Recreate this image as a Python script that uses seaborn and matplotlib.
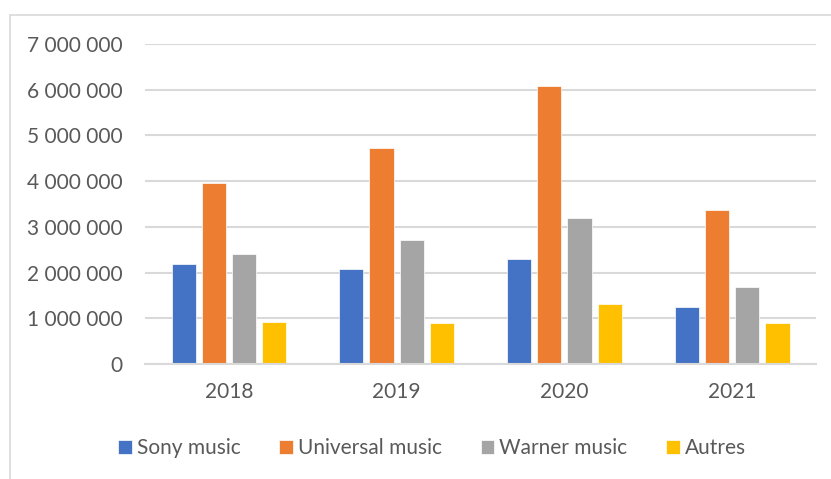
import matplotlib
matplotlib.use("Agg")
import matplotlib.pyplot as plt
from matplotlib.lines import Line2D
from matplotlib.ticker import FuncFormatter, MultipleLocator
import pandas as pd
import seaborn as sns

# donnees
annees = ["2018", "2019", "2020", "2021"]
labels = ["Sony music", "Universal music", "Warner music", "Autres"]
sony = [2190000, 2090000, 2300000, 1250000]
universal = [3950000, 4730000, 6090000, 3360000]
warner = [2410000, 2720000, 3190000, 1680000]
autres = [910000, 890000, 1320000, 900000]
couleurs = ["#4472C4", "#ED7D31", "#A5A5A5", "#FFC000"]

df = pd.DataFrame({
    "annee": annees * 4,
    "label": [l for l in labels for _ in annees],
    "valeur": sony + universal + warner + autres,
})

sns.set_theme(style="white")
plt.rcParams["font.family"] = ["Lato", "DejaVu Sans"]
gris_texte = "#595959"
gris_ligne = "#D9D9D9"

fig = plt.figure(figsize=(8.31, 4.79), dpi=100)
ax = fig.add_axes([0.1745, 0.240, 0.8075, 0.668])

sns.barplot(
    data=df,
    x="annee",
    y="valeur",
    hue="label",
    palette=couleurs,
    saturation=1,
    width=0.72,
    gap=0.2,
    edgecolor="white",
    linewidth=0.5,
    ax=ax,
)

ax.set_ylim(0, 7000000)
ax.yaxis.set_major_locator(MultipleLocator(1000000))
ax.yaxis.set_major_formatter(
    FuncFormatter(lambda v, p: f"{v:,.0f}".replace(",", " "))
)
ax.grid(axis="y", color=gris_ligne, linewidth=1.5)
ax.set_axisbelow(True)
for cote in ["top", "right", "left"]:
    ax.spines[cote].set_visible(False)
ax.spines["bottom"].set_color(gris_ligne)
ax.spines["bottom"].set_linewidth(1.5)
ax.set_xlabel("")
ax.set_ylabel("")
ax.tick_params(axis="both", length=0, labelsize=15, colors=gris_texte)
ax.tick_params(axis="y", pad=16)
ax.tick_params(axis="x", pad=13)

leg = ax.legend(
    ncol=4,
    loc="center",
    bbox_to_anchor=(0.52, 0.065),
    bbox_transform=fig.transFigure,
    frameon=False,
    fontsize=15,
    handlelength=0.65,
    handleheight=0.65,
    handletextpad=0.25,
    columnspacing=1.85,
)
for t in leg.get_texts():
    t.set_color(gris_texte)

# bordure de la zone du graphique
fig.add_artist(Line2D([10 / 831, 10 / 831], [0, 1 - 15 / 479],
                      transform=fig.transFigure, color=gris_ligne, linewidth=1.2))
fig.add_artist(Line2D([10 / 831, 1], [1 - 15 / 479, 1 - 15 / 479],
                      transform=fig.transFigure, color=gris_ligne, linewidth=1.2))

fig.savefig("out.png", dpi=100)
